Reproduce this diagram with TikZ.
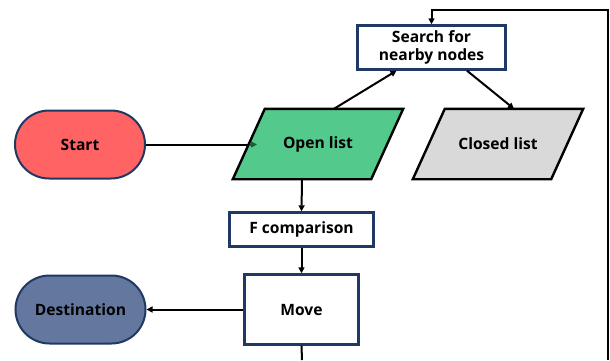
\documentclass[tikz,border=0pt]{standalone}
\usepackage{fontspec}
\setmainfont{Open Sans}
\usetikzlibrary{shapes.misc,arrows.meta,calc}
\definecolor{navy}{HTML}{1F3864}
\definecolor{startred}{HTML}{FF6363}
\definecolor{destblue}{HTML}{64789F}
\definecolor{opengreen}{HTML}{53C98B}
\definecolor{closedgray}{HTML}{D9D9D9}
\tikzset{
  every node/.style={font=\bfseries\fontsize{15.6}{17.5}\selectfont, align=center, inner sep=0pt},
  pill/.style={rounded rectangle, draw=navy, line width=2pt, minimum width=130pt, minimum height=68pt},
  box/.style={rectangle, draw=navy, fill=white, line width=2.4pt},
  parabody/.style={rectangle, minimum width=138pt, minimum height=70pt},
  paraline/.style={draw=black, line width=2.4pt, line join=miter},
  conn/.style={line width=2pt, draw=black},
  arr/.style={conn, -{Triangle[length=6pt,width=6pt]}}
}
\begin{document}
\begin{tikzpicture}[x=1pt,y=-1pt]
\useasboundingbox (0,0) rectangle (610,360);
\node[pill, fill=startred] (start) at (80,144.5) {Start};
\node[pill, fill=destblue] (dest) at (80.5,309.5) {Destination};
\node[box, minimum width=148pt, minimum height=44pt] (search) at (431.5,47.5) {Search for\\nearby nodes};
\node[box, minimum width=144pt, minimum height=34pt] (fcomp) at (301.5,229.5) {F comparison};
\node[box, minimum width=114pt, minimum height=70pt] (move) at (301.5,309.5) {Move};
\draw[arr] (start.east) -- (257,144.5);
% Open list parallelogram
\node[parabody] (open) at (318,144) {};
\draw[paraline, fill=opengreen] ([xshift=-16pt]open.south west) -- ([xshift=16pt]open.north west)
  -- ([xshift=16pt]open.north east) -- ([xshift=-16pt]open.south east) -- cycle;
\node at (open.center) {Open list};
% Closed list parallelogram
\node[parabody] (closed) at (498,144) {};
\draw[paraline, fill=closedgray] ([xshift=-16pt]closed.south west) -- ([xshift=16pt]closed.north west)
  -- ([xshift=16pt]closed.north east) -- ([xshift=-16pt]closed.south east) -- cycle;
\node at (closed.center) {Closed list};
\draw[conn, -{Triangle[length=6pt,width=6pt,fill=opengreen!45!black]}, draw=opengreen!45!black] (250,144.5) -- (257,144.5);
\draw[arr] ([xshift=16pt]open.north) -- ([xshift=-35pt]search.south);
\draw[arr] ([xshift=35.5pt]search.south) -- ([xshift=16pt]closed.north);
\draw[arr] ([xshift=-16pt]open.south) -- (fcomp.north);
\draw[arr] (fcomp.south) -- (move.north);
\draw[arr] (move.west) -- (dest.east);
\coordinate (exitb) at (302,360);
\coordinate (loopb) at (608,360);
\coordinate (loopt) at (431.5,10);
\draw[conn] (move.south) -- (exitb);
\draw[arr] (loopb) |- (loopt) -- (search.north);
\end{tikzpicture}
\end{document}
